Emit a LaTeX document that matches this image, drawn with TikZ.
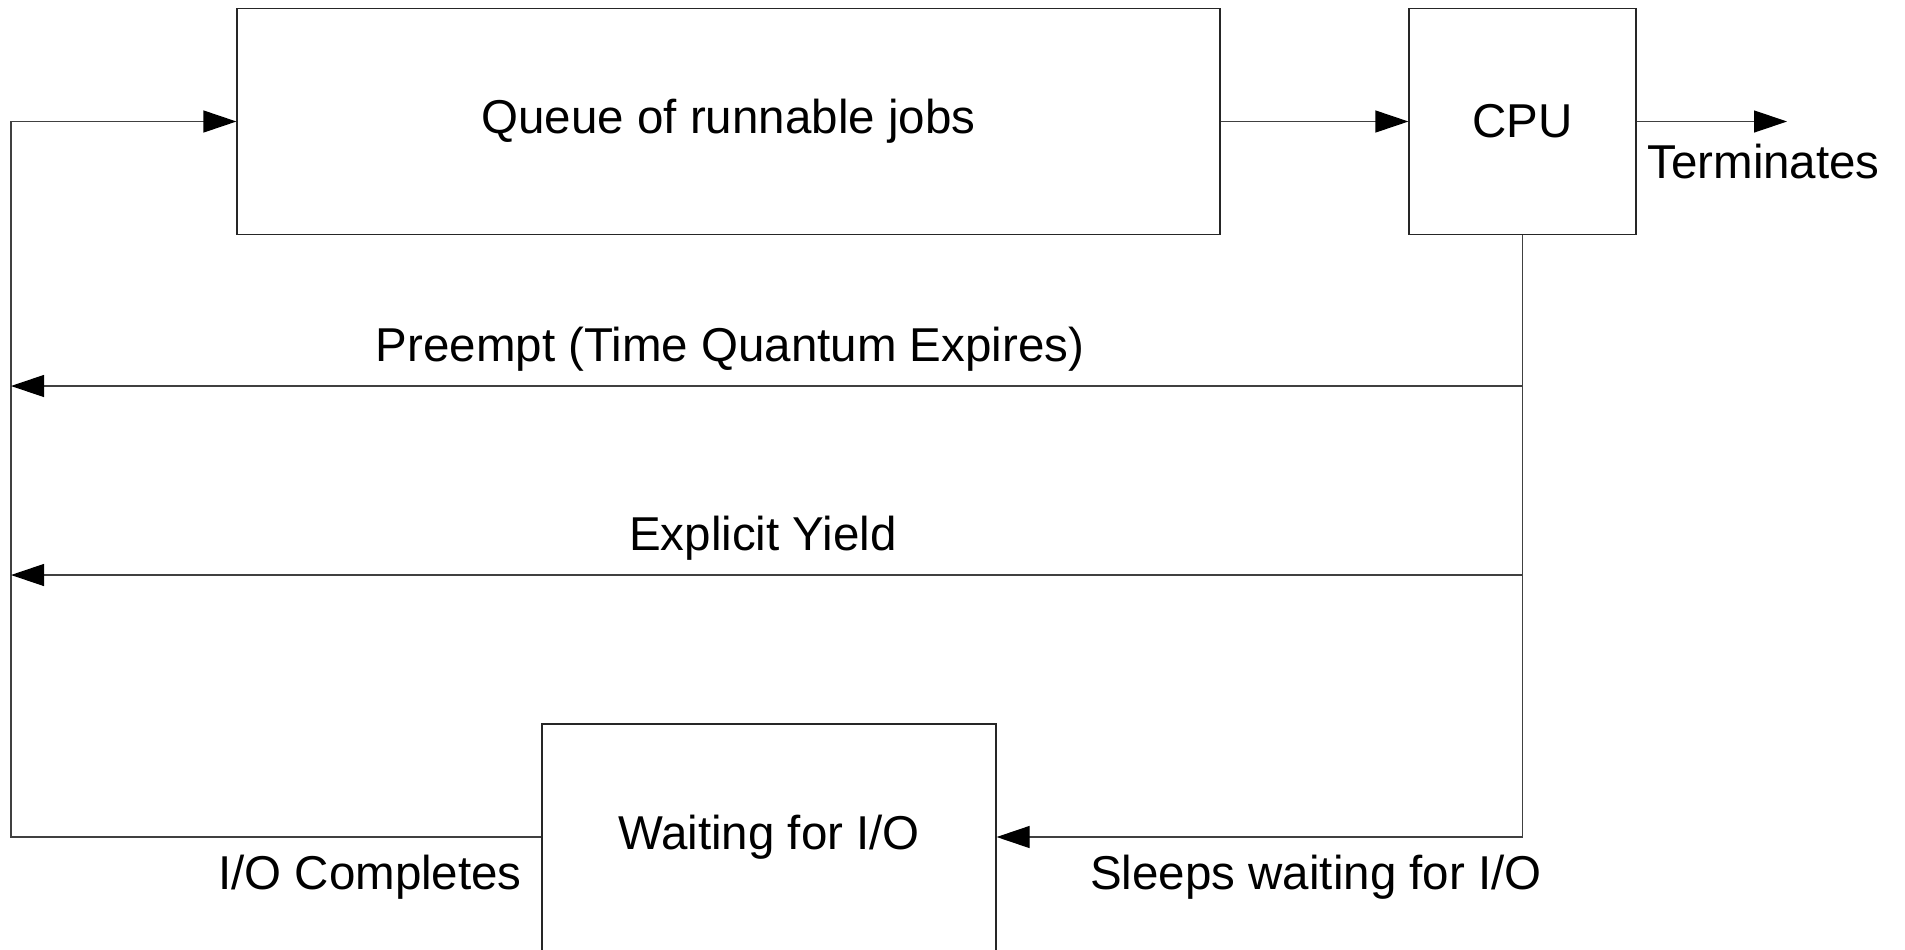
\documentclass[tikz,border=0pt]{standalone}
\usepackage{fontspec}
\setmainfont{Liberation Sans}
\usetikzlibrary{arrows.meta}
\begin{document}
\begin{tikzpicture}[x=0.5pt,y=-0.5pt,
  every node/.style={font=\fontsize{23.75}{28}\selectfont},
  box/.style={draw=black!85, line width=0.6pt, inner sep=0pt, fill=white},
  conn/.style={draw=black!75, line width=0.6pt},
  arr/.style={conn, -{Triangle[length=16.5pt,width=11pt,color=black]}},
  lbl/.style={inner sep=0pt}]
\useasboundingbox (0,0) rectangle (1905,949);
\clip (0,0) rectangle (1905,949);
\node[box, minimum width=491.5pt, minimum height=113pt] (queue) at (728.5,121.5) {Queue of runnable jobs};
\node[box, minimum width=113.5pt, minimum height=113pt] (cpu) at (1522.5,121.5) {CPU};
\node[box, minimum width=227pt, minimum height=116pt] (wait) at (769,840) {};
\node[lbl] (wtxt) at (769,837) {Waiting for I/O};
\coordinate (term) at (1787,121.5);
\coordinate (corner) at (11,837);
\coordinate (cpubot) at (1522.5,837);
\coordinate (pre) at (11,386);
\coordinate (yld) at (11,575);
% connectors
\draw[arr] (queue.east) -- (cpu.west);
\draw[arr] (cpu.east) -- (term);
\draw[arr] (wait.west |- corner) -- (corner) -- (corner |- queue.west) -- (queue.west);
\draw[conn] (cpu.south) -- (cpubot);
\draw[arr] (cpu.south |- pre) -- (pre);
\draw[arr] (cpu.south |- yld) -- (yld);
\draw[arr] (cpubot) -- (wait.east |- cpubot);
% labels
\node[lbl, anchor=west] (tlab) at (1647,162) {Terminates};
\node[lbl] (plab) at (730,349) {Preempt (Time Quantum Expires)};
\node[lbl] (ylab) at (763,538) {Explicit Yield};
\node[lbl] (slab) at (1316,877) {Sleeps waiting for I/O};
\node[lbl] (clab) at (370,877) {I/O Completes};
\end{tikzpicture}
\end{document}
